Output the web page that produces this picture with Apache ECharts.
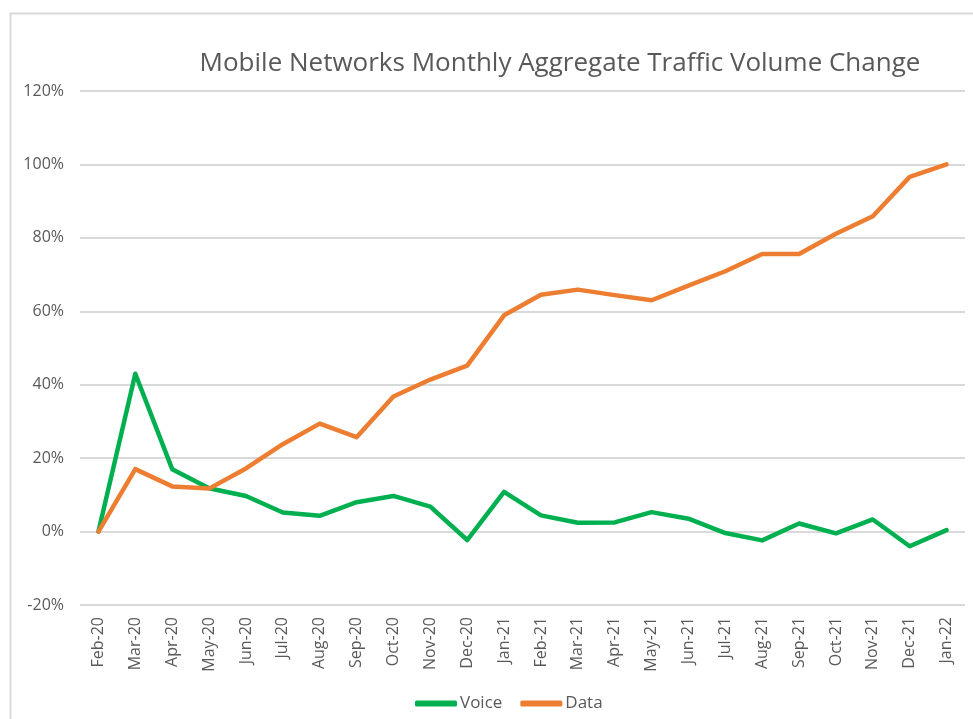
<!DOCTYPE html>
<html>
<head>
<meta charset="utf-8">
<script src="https://cdn.jsdelivr.net/npm/echarts@6/dist/echarts.min.js"></script>
<style>
  html, body { margin: 0; padding: 0; background: #fff; }
  #main { width: 973px; height: 719px; }
</style>
</head>
<body>
<div id="main"></div>
<script>
var months = ['Feb-20', 'Mar-20', 'Apr-20', 'May-20', 'Jun-20', 'Jul-20', 'Aug-20', 'Sep-20',
  'Oct-20', 'Nov-20', 'Dec-20', 'Jan-21', 'Feb-21', 'Mar-21', 'Apr-21', 'May-21', 'Jun-21',
  'Jul-21', 'Aug-21', 'Sep-21', 'Oct-21', 'Nov-21', 'Dec-21', 'Jan-22'];
var voice = [0, 43.0, 17.0, 11.8, 9.7, 5.2, 4.3, 8.0, 9.7, 6.8, -2.3, 10.8,
  4.4, 2.4, 2.5, 5.3, 3.5, -0.4, -2.4, 2.2, -0.5, 3.3, -4.0, 0.4];
var data = [0, 17.0, 12.3, 11.7, 17.2, 23.8, 29.4, 25.7, 36.8, 41.4, 45.2, 58.9,
  64.5, 65.9, 64.4, 63.0, 67.0, 70.9, 75.6, 75.6, 81.1, 85.9, 96.6, 100];

var chartDom = document.getElementById('main');
var myChart = echarts.init(chartDom);
var option;

var font = '"Open Sans", "Noto Sans", sans-serif';

option = {
  animation: false,
  backgroundColor: '#fff',
  textStyle: { fontFamily: font },
  title: {
    text: 'Mobile Networks Monthly Aggregate Traffic Volume Change',
    left: 555,
    textAlign: 'center',
    top: 46,
    textStyle: { fontFamily: font, fontSize: 26, fontWeight: 'normal', color: '#595959' }
  },
  graphic: [{
    type: 'polyline',
    shape: { points: [[10.5, 719], [10.5, 13.5], [973, 13.5]] },
    style: { stroke: '#d9d9d9', lineWidth: 2, fill: null }
  }],
  legend: {
    bottom: 2,
    left: 410,
    itemWidth: 42,
    itemHeight: 6,
    itemGap: 18,
    icon: 'roundRect',
    textStyle: { fontFamily: font, fontSize: 17, color: '#595959', padding: [0, 0, 0, -2] },
    data: ['Voice', 'Data']
  },
  grid: { left: 80, right: 8, top: 91, bottom: 114, containLabel: false },
  xAxis: {
    type: 'category',
    data: months,
    boundaryGap: true,
    axisLine: { show: false },
    axisTick: { show: false },
    axisLabel: { rotate: 90, color: '#595959', fontSize: 16, margin: 12, interval: 0 }
  },
  yAxis: {
    type: 'value',
    min: -20,
    max: 120,
    interval: 20,
    axisLine: { show: false },
    axisTick: { show: false },
    axisLabel: { formatter: '{value}%', color: '#595959', fontSize: 16, margin: 16 },
    splitLine: { lineStyle: { color: '#d9d9d9', width: 2 } }
  },
  series: [
    {
      name: 'Voice',
      type: 'line',
      data: voice,
      symbol: 'none',
      lineStyle: { color: '#00b050', width: 4.5, cap: 'round', join: 'round' },
      itemStyle: { color: '#00b050' }
    },
    {
      name: 'Data',
      type: 'line',
      data: data,
      symbol: 'none',
      lineStyle: { color: '#ed7d31', width: 4.5, cap: 'round', join: 'round' },
      itemStyle: { color: '#ed7d31' }
    }
  ]
};

option && myChart.setOption(option);
</script>
</body>
</html>
